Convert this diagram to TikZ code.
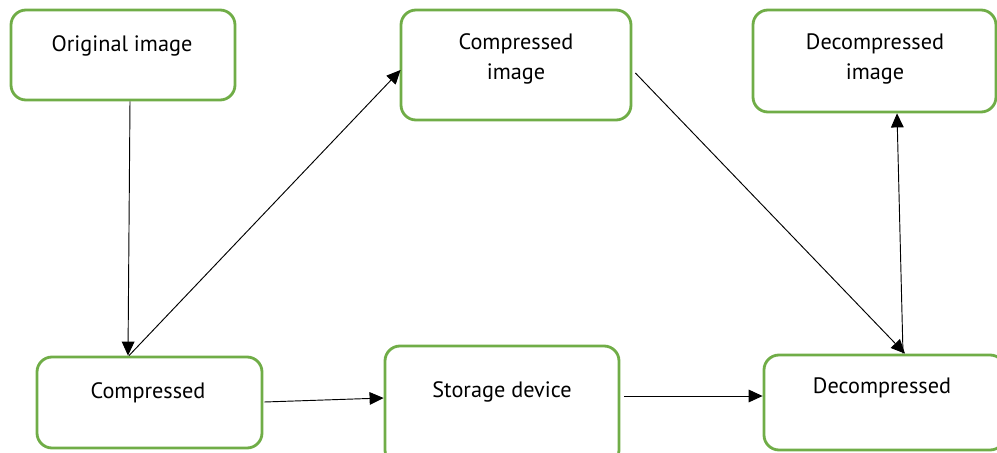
\documentclass[tikz,border=0pt]{standalone}
\usepackage{fontspec}
\setmainfont{PT Sans}
\usetikzlibrary{fit,calc,arrows.meta}
\definecolor{boxgreen}{RGB}{112,173,71}
\tikzset{
  box/.style={draw=boxgreen, line width=2.4pt, rounded corners=0.45cm, inner sep=0pt, fill=white},
  lbl/.style={font=\fontsize{19}{25.5}\selectfont, align=center, inner sep=0pt},
  arr/.style={draw=black, line width=0.8pt, -{Triangle[length=0.42cm,width=0.38cm]}}
}
\begin{document}
\begin{tikzpicture}[x=0.03cm,y=-0.03cm]
\useasboundingbox (0,0) rectangle (997,453);
\clip (0,0) rectangle (997,453);
\node[box, fit={(11,10) (235,100)}] (orig) {};
\node[box, fit={(401,10) (631,120)}] (cimg) {};
\node[box, fit={(753,10) (996,112)}] (dimg) {};
\node[box, fit={(37,357) (262,448)}] (comp) {};
\node[box, fit={(385,346) (619,465)}] (stor) {};
\node[box, fit={(764,355) (1005,450)}] (dec) {};
\node[lbl] (torig) at (122,46) {Original image};
\node[lbl] (tcimg) at (516,59) {Compressed\\image};
\node[lbl] (tdimg) at (875,59) {Decompressed\\image};
\node[lbl] (tcomp) at (148,393) {Compressed};
\node[lbl] (tstor) at (502,392) {Storage device};
\node[lbl] (tdec) at (882,388) {Decompressed};
\draw[arr] ($(orig.south)+(7,0)$) -- ($(comp.north)+(-21.5,0)$);
\draw[arr] ($(comp.north)+(-20.5,0)$) -- ($(cimg.west)+(1,5)$);
\draw[arr] ($(cimg.east)+(3,8)$) -- ($(dec.north)+(20.5,0)$);
\draw[arr] ($(dec.north)+(18.5,0)$) -- ($(dimg.south)+(22.5,0)$);
\draw[arr] ($(comp.east)+(1,-0.5)$) -- ($(stor.west)+(0,-7.5)$);
\draw[arr] ($(stor.east)+(4,-9.5)$) -- ($(dec.west)+(0,-6.5)$);
\end{tikzpicture}
\end{document}
